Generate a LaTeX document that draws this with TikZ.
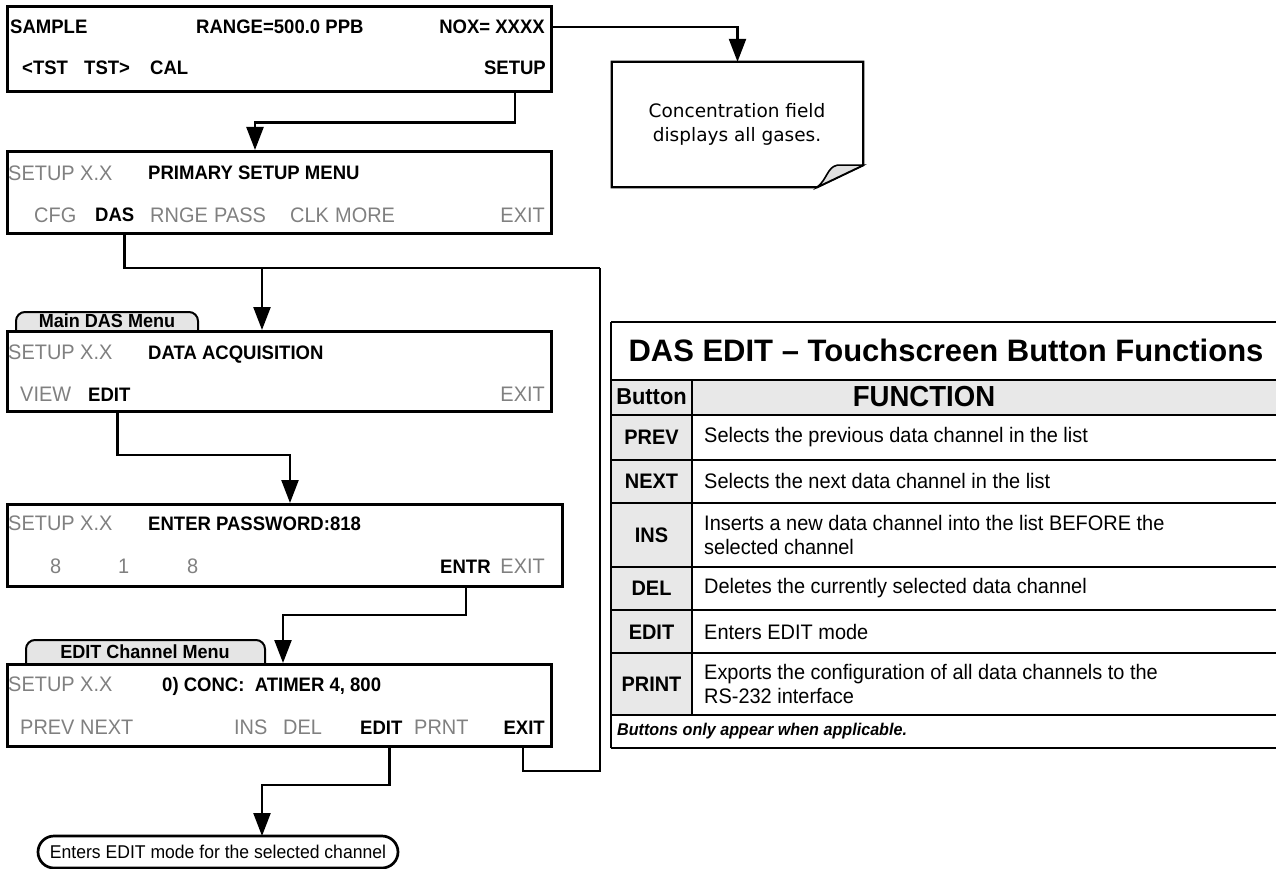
\documentclass[tikz,border=0pt]{standalone}
\usepackage{fontspec}
\setmainfont{Liberation Sans}
\newfontfamily\scrfont[FakeStretch=0.95]{Liberation Sans}
\newfontfamily\dvs{DejaVu Sans}
\usetikzlibrary{arrows.meta,calc}
\definecolor{dimtext}{gray}{0.5}
\definecolor{tabgray}{gray}{0.9}
\definecolor{cellgray}{gray}{0.91}
\definecolor{curlgray}{gray}{0.88}
\begin{document}
\begin{tikzpicture}[x=1pt,y=-1pt,
  scr/.style={draw, line width=2.7pt, inner sep=0pt, anchor=north west},
  bt/.style={inner sep=0pt, anchor=west, text height=14pt, text depth=0pt, font=\scrfont\fontsize{19.5}{23}\selectfont\bfseries},
  gt/.style={inner sep=0pt, anchor=west, text height=14.5pt, text depth=0pt, text=dimtext, font=\scrfont\fontsize{21}{24}\selectfont},
  conn/.style={line width=2.4pt},
  arr/.style={line width=2.4pt, -{Triangle[length=23pt,width=17pt]}},
  tabshape/.style={draw, line width=2pt, fill=tabgray, rounded corners=9pt},
  tabtext/.style={inner sep=0pt, font=\scrfont\fontsize{19}{21}\selectfont\bfseries},
  tline/.style={line width=2pt},
  tbtn/.style={inner sep=0pt, font=\scrfont\fontsize{21}{24}\selectfont\bfseries},
  tdesc/.style={inner sep=0pt, anchor=west, align=left, font=\scrfont\fontsize{21}{23.5}\selectfont},
]
\useasboundingbox (0,0) rectangle (1276,869);

% ---------- screen 1
\node[scr, minimum width=544pt, minimum height=85pt] (scr1) at (6,5) {};
\node[bt] (sample) at (10,27) {SAMPLE};
\node[bt] (range) at (196,27) {RANGE=500.0 PPB};
\node[bt, anchor=east] (nox) at (545,27) {NOX= XXXX};
\node[bt] (ltst) at (22,68) {<TST};
\node[bt] (rtst) at (84,68) {TST>};
\node[bt] (cal) at (150,68) {CAL};
\node[bt, anchor=east] (setup) at (546,68) {SETUP};

% ---------- note
\node[minimum width=251pt, minimum height=125pt, inner sep=0pt] (note) at (737.5,124.5) {};
\draw[line width=2.2pt, fill=white] (note.north west) -- (note.north east) -- ($(note.south east)+(0,-22)$) -- ($(note.south east)+(-46,0)$) -- (note.south west) -- cycle;
\draw[line width=1.6pt, fill=curlgray] ($(note.south east)+(-46,0)$) .. controls ($(note.south east)+(-36,-8)$) and ($(note.south east)+(-36,-20)$) .. ($(note.south east)+(-26,-22)$) -- ($(note.south east)+(0,-22)$) -- cycle;
\node[align=center, inner sep=0pt, font=\dvs\fontsize{18.5}{24}\selectfont] (notetext) at (737,124) {Concentration field\\displays all gases.};

% ---------- screen 2
\node[scr, minimum width=544pt, minimum height=82pt] (scr2) at (6,150) {};
\node[gt] (s2a) at (8,173) {SETUP X.X};
\node[bt] (s2b) at (148,173) {PRIMARY SETUP MENU};
\node[gt] (cfg) at (34,215) {CFG};
\node[bt] (das) at (95,215) {DAS};
\node[gt] (rnge) at (150,215) {RNGE};
\node[gt] (pass) at (214,215) {PASS};
\node[gt] (clk) at (290,215) {CLK};
\node[gt] (more) at (335,215) {MORE};
\node[gt, anchor=east] (exit2) at (545,215) {EXIT};

% ---------- screen 3
\draw[tabshape] (16,330) -- (16,312) -- (198,312) -- (198,330);
\node[tabtext] (tab1) at (107,321) {Main DAS Menu};
\node[scr, minimum width=544pt, minimum height=80pt] (scr3) at (6,330) {};
\node[gt] (s3a) at (8,352) {SETUP X.X};
\node[bt] (s3b) at (148,352) {DATA ACQUISITION};
\node[gt] (view) at (20,394) {VIEW};
\node[bt] (edit3) at (88,394) {EDIT};
\node[gt, anchor=east] (exit3) at (545,394) {EXIT};

% ---------- screen 4
\node[scr, minimum width=555pt, minimum height=82pt] (scr4) at (6,503) {};
\node[gt] (s4a) at (8,523) {SETUP X.X};
\node[bt] (s4b) at (148,523) {ENTER PASSWORD:818};
\node[gt] (d1) at (50,566) {8};
\node[gt] (d2) at (118,566) {1};
\node[gt] (d3) at (187,566) {8};
\node[bt] (entr) at (440,566) {ENTR};
\node[gt, anchor=east] (exit4) at (545,566) {EXIT};

% ---------- screen 5
\draw[tabshape] (26,663) -- (26,640) -- (265,640) -- (265,663);
\node[tabtext] (tab2) at (145,652) {EDIT Channel Menu};
\node[scr, minimum width=544pt, minimum height=82pt] (scr5) at (6,663) {};
\node[gt] (s5a) at (8,684) {SETUP X.X};
\node[bt] (s5b) at (162,684) {0) CONC:\ \ ATIMER 4, 800};
\node[gt] (prev) at (20,727) {PREV};
\node[gt] (next) at (80,727) {NEXT};
\node[gt] (ins) at (234,727) {INS};
\node[gt] (del) at (283,727) {DEL};
\node[bt] (edit5) at (360,727) {EDIT};
\node[gt] (prnt) at (414,727) {PRNT};
\node[bt, anchor=east] (exit5) at (545,727) {EXIT};

% ---------- terminator
\node[draw, line width=2.7pt, rounded corners=16pt, minimum width=360pt, minimum height=32pt, inner sep=0pt, font=\scrfont\fontsize{18.5}{22}\selectfont] (term) at (218,852) {Enters EDIT mode for the selected channel};

% ---------- connectors
\coordinate (a2) at (255,150);
\coordinate (a3) at (262,330);
\coordinate (a4) at (290,503);
\coordinate (a5) at (283,663);
\coordinate (a6) at (262,836);
\coordinate (loop) at (600,268);
\draw[arr] (nox -| scr1.east) -| (note.north);
\draw[arr] ($(setup.east |- scr1.south)+(-31,0)$) -- ++(0,30) -| (a2);
\draw[conn] ($(das.east |- scr2.south)+(-10,0)$) |- (loop);
\draw[arr] (a3 |- loop) -- (a3);
\draw[arr] ($(edit3.east |- scr3.south)+(-13,0)$) -- ++(0,42) -| (a4);
\draw[arr] ($(entr.east |- scr4.south)+(-25,0)$) -- ++(0,27) -| (a5);
\draw[arr] ($(edit5.east |- scr5.south)+(-13,0)$) -- ++(0,37) -| (a6);
\draw[conn] ($(exit5.east |- scr5.south)+(-22,0)$) -- ++(0,23) -| (loop);

% ---------- table
\fill[cellgray] (611,380) rectangle (1276,415);
\fill[cellgray] (611,415) rectangle (692,715);
\draw[tline] (611,322) -- (1276,322);
\draw[tline] (611,322) -- (611,748);
\draw[tline] (611,380) -- (1276,380);
\draw[tline] (611,415) -- (1276,415);
\draw[tline] (611,460) -- (1276,460);
\draw[tline] (611,503) -- (1276,503);
\draw[tline] (611,567) -- (1276,567);
\draw[tline] (611,610) -- (1276,610);
\draw[tline] (611,653) -- (1276,653);
\draw[tline] (611,715) -- (1276,715);
\draw[tline] (611,748) -- (1276,748);
\draw[tline] (692,380) -- (692,715);
\node[inner sep=0pt, font=\fontsize{31}{34}\selectfont\bfseries] (ttitle) at (946,350) {DAS EDIT – Touchscreen Button Functions};
\node[inner sep=0pt, font=\scrfont\fontsize{23}{26}\selectfont\bfseries] (hbtn) at (651.5,397) {Button};
\node[inner sep=0pt, font=\scrfont\fontsize{29}{30}\selectfont\bfseries] (hfun) at (924,397) {FUNCTION};
\node[tbtn] (bprev) at (651.5,437) {PREV};
\node[tbtn] (bnext) at (651.5,481) {NEXT};
\node[tbtn] (bins) at (651.5,535) {INS};
\node[tbtn] (bdel) at (651.5,588) {DEL};
\node[tbtn] (bedit) at (651.5,632) {EDIT};
\node[tbtn] (bprint) at (651.5,684) {PRINT};
\node[tdesc] (fprev) at (704,437) {Selects the previous data channel in the list};
\node[tdesc] (fnext) at (704,481) {Selects the next data channel in the list};
\node[tdesc] (fins) at (704,535) {Inserts a new data channel into the list BEFORE the\\selected channel};
\node[tdesc] (fdel) at (704,588) {Deletes the currently selected data channel};
\node[tdesc] (fedit) at (704,632) {Enters EDIT mode};
\node[tdesc] (fprint) at (704,684) {Exports the configuration of all data channels to the\\RS-232 interface};
\node[inner sep=0pt, anchor=west, font=\scrfont\fontsize{17}{20}\selectfont\bfseries\itshape] (foot) at (617,731) {Buttons only appear when applicable.};
\end{tikzpicture}
\end{document}
